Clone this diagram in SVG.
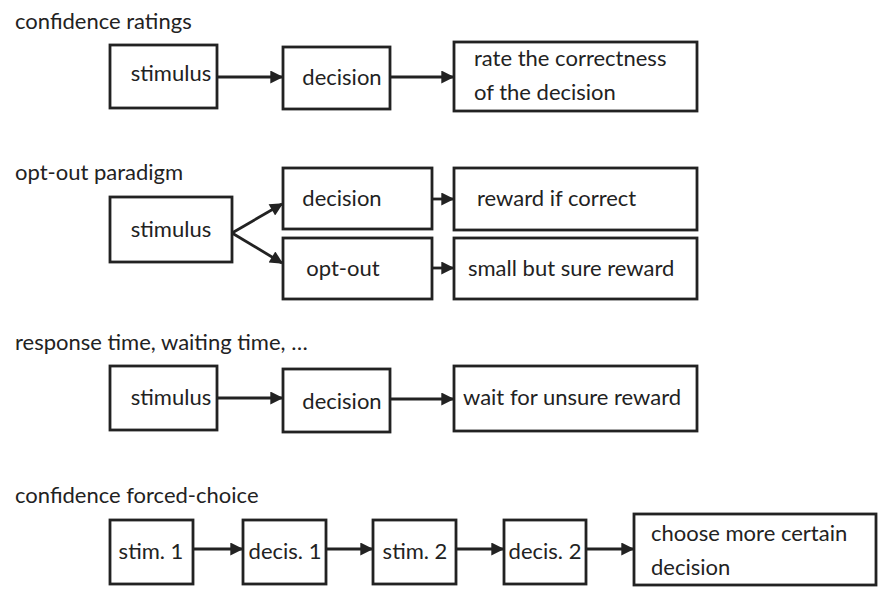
<svg xmlns="http://www.w3.org/2000/svg" width="894" height="600" viewBox="0 0 894 600">
<defs>
<marker id="ah" viewBox="0 0 10 10" refX="9" refY="5" markerWidth="15" markerHeight="13" markerUnits="userSpaceOnUse" orient="auto">
<path d="M0,0 L10,5 L0,10 z" fill="#222"/>
</marker>
<style>
.b{fill:#fff;stroke:#222;stroke-width:2.8}
.t{font-family:Lato,"Open Sans","Liberation Sans",sans-serif;font-size:22px;fill:#222}
.m{text-anchor:middle}
.c{fill:none;stroke:#222;stroke-width:2.8;marker-end:url(#ah)}
</style>
</defs>
<rect width="894" height="600" fill="#fff"/>
<text class="t" x="15" y="29">confidence ratings</text>
<text class="t" x="15" y="180">opt-out paradigm</text>
<text class="t" x="15" y="350">response time, waiting time, …</text>
<text class="t" x="15" y="503">confidence forced-choice</text>

<g id="r1-stimulus"><rect class="b" x="110" y="45" width="107" height="63"/><text class="t m" x="171" y="81">stimulus</text></g>
<g id="r1-decision"><rect class="b" x="283" y="47" width="107" height="62"/><text class="t m" x="342" y="85">decision</text></g>
<g id="r1-rate"><rect class="b" x="454" y="42" width="243" height="69"/><text class="t" x="474" y="66">rate the correctness</text><text class="t" x="474" y="100">of the decision</text></g>

<g id="r2-stimulus"><rect class="b" x="110" y="197" width="122" height="65"/><text class="t m" x="171" y="237">stimulus</text></g>
<g id="r2-decision"><rect class="b" x="283" y="168" width="149" height="61"/><text class="t m" x="342" y="206">decision</text></g>
<g id="r2-optout"><rect class="b" x="283" y="238" width="149" height="61"/><text class="t m" x="343" y="276">opt-out</text></g>
<g id="r2-reward"><rect class="b" x="454" y="168" width="243" height="62"/><text class="t" x="477" y="206">reward if correct</text></g>
<g id="r2-small"><rect class="b" x="454" y="238" width="243" height="61"/><text class="t" x="468" y="276">small but sure reward</text></g>

<g id="r3-stimulus"><rect class="b" x="110" y="366" width="107" height="64"/><text class="t m" x="171" y="405">stimulus</text></g>
<g id="r3-decision"><rect class="b" x="283" y="369" width="107" height="63"/><text class="t m" x="342" y="409">decision</text></g>
<g id="r3-wait"><rect class="b" x="454" y="366" width="243" height="65"/><text class="t" x="463" y="405">wait for unsure reward</text></g>

<g id="r4-stim1"><rect class="b" x="110" y="520" width="83" height="64"/><text class="t m" x="151" y="559">stim. 1</text></g>
<g id="r4-decis1"><rect class="b" x="243" y="520" width="83" height="64"/><text class="t m" x="285" y="559">decis. 1</text></g>
<g id="r4-stim2"><rect class="b" x="373" y="520" width="83" height="64"/><text class="t m" x="415" y="559">stim. 2</text></g>
<g id="r4-decis2"><rect class="b" x="504" y="520" width="82" height="64"/><text class="t m" x="545" y="559">decis. 2</text></g>
<g id="r4-choose"><rect class="b" x="634" y="514" width="242" height="71"/><text class="t" x="651" y="541">choose more certain</text><text class="t" x="651" y="575">decision</text></g>

<g id="connectors">
<line class="c" x1="217" y1="77" x2="282" y2="77"/>
<line class="c" x1="390" y1="77" x2="453" y2="77"/>
<line class="c" x1="232" y1="233" x2="282" y2="204"/>
<line class="c" x1="232" y1="233" x2="282" y2="263"/>
<line class="c" x1="432" y1="199" x2="453" y2="199"/>
<line class="c" x1="432" y1="268" x2="453" y2="268"/>
<line class="c" x1="217" y1="398" x2="282" y2="398"/>
<line class="c" x1="390" y1="399" x2="453" y2="399"/>
<line class="c" x1="193" y1="549" x2="242" y2="549"/>
<line class="c" x1="326" y1="549" x2="372" y2="549"/>
<line class="c" x1="456" y1="549" x2="503" y2="549"/>
<line class="c" x1="586" y1="549" x2="633" y2="549"/>
</g>
</svg>
